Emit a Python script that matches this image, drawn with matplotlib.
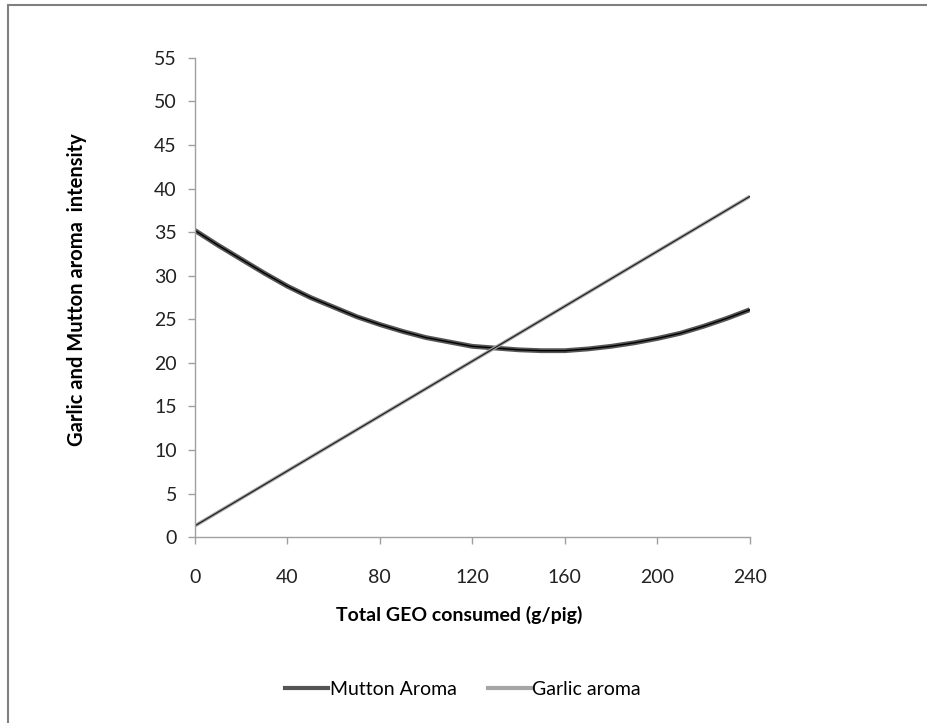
import matplotlib
matplotlib.use("Agg")
import matplotlib.pyplot as plt
from matplotlib.lines import Line2D
from matplotlib.patches import Rectangle

plt.rcParams["font.family"] = ["Lato", "DejaVu Sans"]

# values
geo = [0, 10, 20, 30, 40, 50, 60, 70, 80, 90, 100, 110, 120,
       130, 140, 150, 160, 170, 180, 190, 200, 210, 220, 230, 240]
mutton = [35.2, 33.5, 31.9, 30.3, 28.8, 27.5, 26.4, 25.3, 24.4, 23.6, 22.9, 22.4, 21.9,
          21.7, 21.5, 21.4, 21.4, 21.6, 21.9, 22.3, 22.8, 23.4, 24.2, 25.1, 26.1]
garlic_x = [0, 120, 240]
garlic = [1.3, 20.2, 39.1]

x_ticks = [0, 40, 80, 120, 160, 200, 240]
y_ticks = list(range(0, 60, 5))

fig = plt.figure(figsize=(9.28, 7.23), dpi=100)
ax = fig.add_axes([0.210, 0.257, 0.598, 0.663])

# thick coloured series with a thin black trendline on top
ax.plot(geo, mutton, color="#555555", lw=3.5, solid_capstyle="butt")
ax.plot(geo, mutton, color="black", lw=1.0)
ax.plot(garlic_x, garlic, color="#a6a6a6", lw=2.5, solid_capstyle="butt")
ax.plot(garlic_x, garlic, color="#222222", lw=0.9)

ax.set_xlim(0, 240)
ax.set_ylim(0, 55)
ax.set_xticks(x_ticks)
ax.set_yticks(y_ticks)
for side in ("top", "right"):
    ax.spines[side].set_visible(False)
for side in ("left", "bottom"):
    ax.spines[side].set_color("#a0a0a0")
    ax.spines[side].set_linewidth(1.0)
ax.tick_params(colors="#a0a0a0", labelcolor="#222222", labelsize=14, length=5, width=1.0)
ax.tick_params(axis="x", pad=18)
ax.tick_params(axis="y", pad=8)

ax.set_xlabel("Total GEO consumed (g/pig)", fontsize=14, fontweight="bold", labelpad=14)
ax.set_ylabel("Garlic and Mutton aroma  intensity", fontsize=14.5, fontweight="bold", labelpad=48)
ax.xaxis.label.set_x(0.476)
ax.yaxis.label.set_y(0.516)

handles = [
    Line2D([], [], color="#555555", lw=3),
    Line2D([], [], color="#a6a6a6", lw=3),
]
fig.legend(
    handles,
    ["Mutton Aroma", "Garlic aroma"],
    loc="center",
    bbox_to_anchor=(0.499, 0.046),
    ncol=2,
    frameon=False,
    fontsize=14,
    handlelength=2.2,
    handletextpad=0.1,
    columnspacing=1.6,
)

# chart-area border (only left/top edges fall inside the image)
fig.patches.append(
    Rectangle((8 / 928, -0.05), 1.2, 1 - 5 / 723 + 0.05, transform=fig.transFigure,
              fill=False, edgecolor="#808080", lw=1.5)
)

fig.savefig("out.png", dpi=100, facecolor="white")
